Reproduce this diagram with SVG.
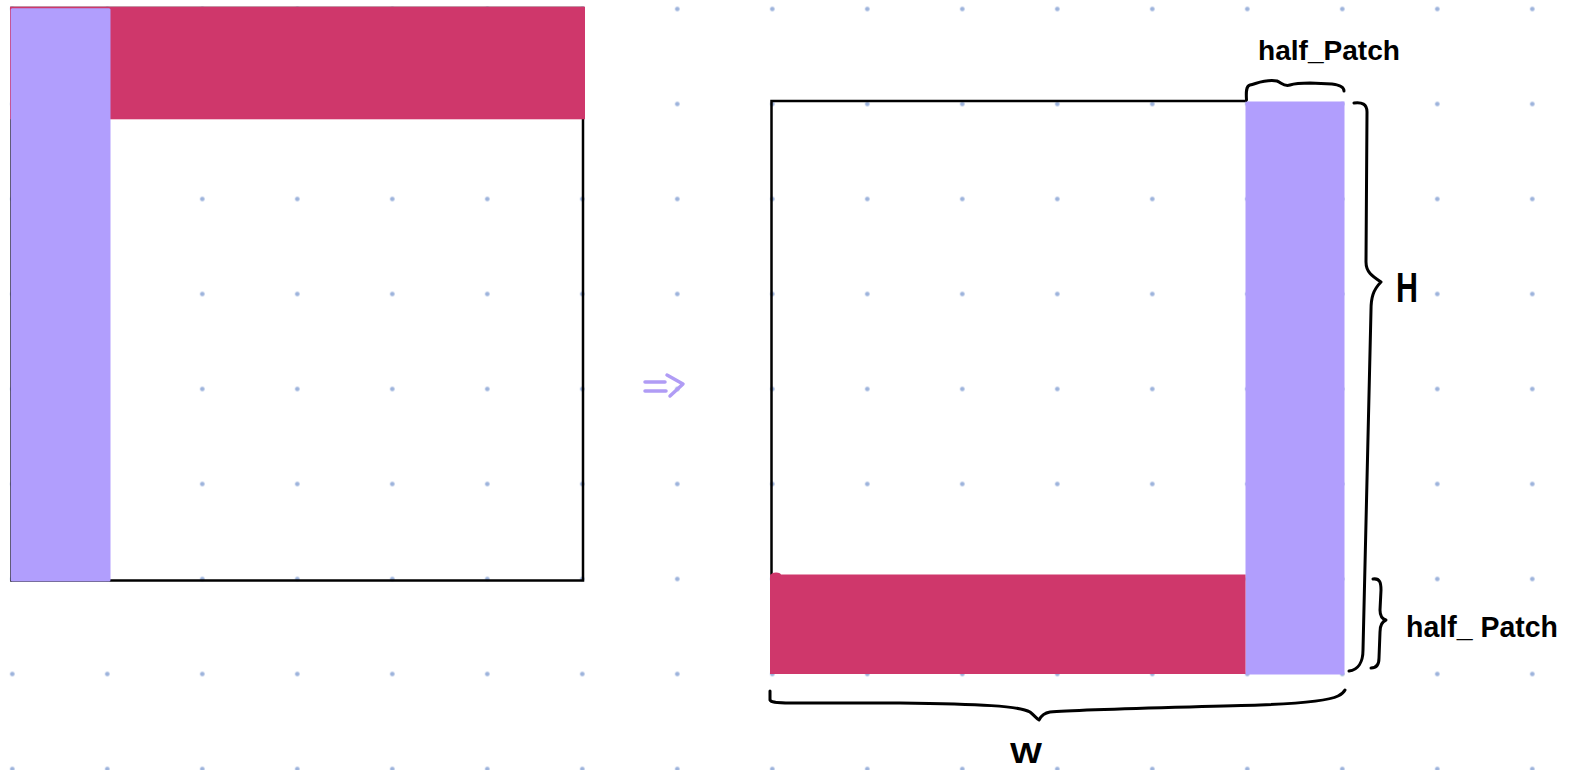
<svg xmlns="http://www.w3.org/2000/svg" width="1575" height="770" viewBox="0 0 1575 770">
<style>
.frame{fill:none;stroke:#000;stroke-width:2.5}
.purple{fill:#b19efd}
.pink{fill:#cf376b}
.brace{fill:none;stroke:#000;stroke-width:3;stroke-linecap:round;stroke-linejoin:round}
.arrow{fill:none;stroke:#b09cf5;stroke-width:3.5;stroke-linecap:round;stroke-linejoin:round}
.lbl{font-family:"Liberation Sans","DejaVu Sans",sans-serif;fill:#000;font-weight:bold}
</style>
<defs>
<pattern id="dots" patternUnits="userSpaceOnUse" x="-35.2" y="-38.5" width="95" height="95">
<circle cx="47.5" cy="47.5" r="2.3" fill="#9db3dc"/>
</pattern>
</defs>
<rect width="1575" height="770" fill="#fff"/>
<rect width="1575" height="770" fill="url(#dots)"/>
<g id="left-diagram">
<rect class="frame" x="11.5" y="8" width="571.5" height="572.5"/>
<rect class="pink" x="10" y="6.7" width="575" height="112.6"/>
<rect class="purple" x="10.7" y="8.3" width="99.8" height="573.2" rx="1.5"/>
</g>
<g id="right-diagram">
<path class="frame" d="M771.5,576 L771.5,101 L1247,101"/>
<rect class="purple" x="1245.5" y="101.5" width="99" height="573"/>
<rect class="pink" x="770" y="574.5" width="475.5" height="99.5"/>
<ellipse class="pink" cx="776" cy="575" rx="5" ry="2.5"/>
</g>
<g id="connectors">
<g id="arrow">
<path class="arrow" d="M645,382 L665,382 M645,391 L666,391 M667,375 L683,384 L670,396"/>
</g>
<path id="brace-top" class="brace" d="M1246.5,100 C1246,92 1246,86 1250,85 C1258,83 1266,79 1277,81 C1282,83 1284,87 1290,85 C1296,83 1300,83 1310,83 L1332,84 C1340,85 1344,87 1344,91"/>
<path id="brace-H" class="brace" d="M1354,103 C1362,102 1367,104 1367,112 L1366,262 C1366,272 1372,276 1381,282 C1373,290 1371,298 1371,310 L1363,650 C1363,662 1358,670 1349,671"/>
<path id="brace-half" class="brace" d="M1373,579 C1380,578 1381,583 1381,590 L1380,610 C1380,616 1382,619 1386,620 C1381,622 1380,626 1380,632 L1379,658 C1379,665 1376,668 1371,668"/>
<path id="brace-W" class="brace" d="M770,691 L770,700 C771,702 775,703 790,703 L900,703 C980,704 1020,706 1030,712 C1035,716 1037,719 1039,720 C1041,716 1044,713 1050,712 C1080,709 1200,707 1260,705 C1310,703 1330,700 1338,696 C1342,694 1344,692 1345,690"/>
</g>
<g id="labels">
<text class="lbl" x="1258" y="60" font-size="28" textLength="142" lengthAdjust="spacingAndGlyphs">half_Patch</text>
<text class="lbl" x="1406" y="637" font-size="30" textLength="152" lengthAdjust="spacingAndGlyphs">half_ Patch</text>
<text class="lbl" x="1396" y="302" font-size="42" textLength="22" lengthAdjust="spacingAndGlyphs">H</text>
<text class="lbl" x="1010" y="763" font-size="29" textLength="32" lengthAdjust="spacingAndGlyphs">W</text>
</g>
</svg>
